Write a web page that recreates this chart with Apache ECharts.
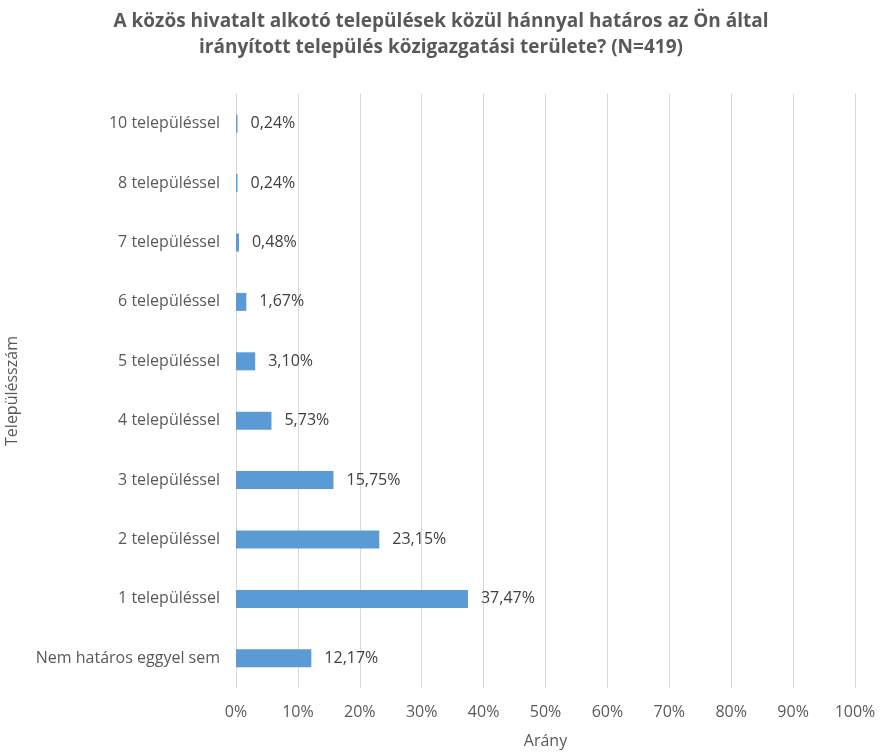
<!DOCTYPE html>
<html>
<head>
<meta charset="utf-8">
<script src="https://cdn.jsdelivr.net/npm/echarts@6/dist/echarts.min.js"></script>
<style>
  html, body { margin: 0; padding: 0; background: #fff; }
  #chart { width: 882px; height: 753px; }
</style>
</head>
<body>
<div id="chart"></div>
<script>
// adatok (alulról felfelé)
const categories = ['Nem határos eggyel sem', '1 településsel', '2 településsel', '3 településsel',
  '4 településsel', '5 településsel', '6 településsel', '7 településsel', '8 településsel', '10 településsel'];
const values = [12.17, 37.47, 23.15, 15.75, 5.73, 3.10, 1.67, 0.48, 0.24, 0.24];
const xTicks = [0, 10, 20, 30, 40, 50, 60, 70, 80, 90, 100];

const font = '"Open Sans", sans-serif';

let chart = echarts.init(document.getElementById('chart'));
let option = {
  animation: false,
  title: {
    text: 'A közös hivatalt alkotó települések közül hánnyal határos az Ön által\nirányított település közigazgatási területe? (N=419)',
    left: 'center',
    top: 4,
    textStyle: { fontFamily: font, fontSize: 19, fontWeight: 'bold', color: '#595959', lineHeight: 26 }
  },
  grid: { left: 236, right: 27, top: 94, bottom: 65, outerBoundsMode: 'none' },
  xAxis: {
    type: 'value',
    min: xTicks[0],
    max: xTicks[xTicks.length - 1],
    interval: 10,
    name: 'Arány',
    nameLocation: 'middle',
    nameGap: 45,
    nameTextStyle: { fontFamily: font, fontSize: 16, color: '#595959' },
    axisLabel: { fontFamily: font, fontSize: 16, color: '#595959', margin: 16, formatter: v => v + '%' },
    axisLine: { show: false },
    axisTick: { show: false },
    splitLine: { lineStyle: { color: '#d9d9d9', width: 1 } }
  },
  yAxis: {
    type: 'category',
    data: categories,
    name: 'Településszám',
    nameLocation: 'middle',
    nameGap: 216,
    nameRotate: 90,
    nameTextStyle: { fontFamily: font, fontSize: 16, color: '#595959' },
    axisLabel: { fontFamily: font, fontSize: 16, color: '#595959', margin: 16 },
    axisLine: { lineStyle: { color: '#d9d9d9' } },
    axisTick: { show: false }
  },
  series: [{
    type: 'bar',
    data: values,
    barWidth: 18,
    itemStyle: { color: '#5b9bd5' },
    label: {
      show: true,
      position: 'right',
      distance: 13,
      fontFamily: font,
      fontSize: 16,
      color: '#404040',
      formatter: p => p.value.toFixed(2).replace('.', ',') + '%'
    }
  }]
};
chart.setOption(option);
</script>
</body>
</html>
